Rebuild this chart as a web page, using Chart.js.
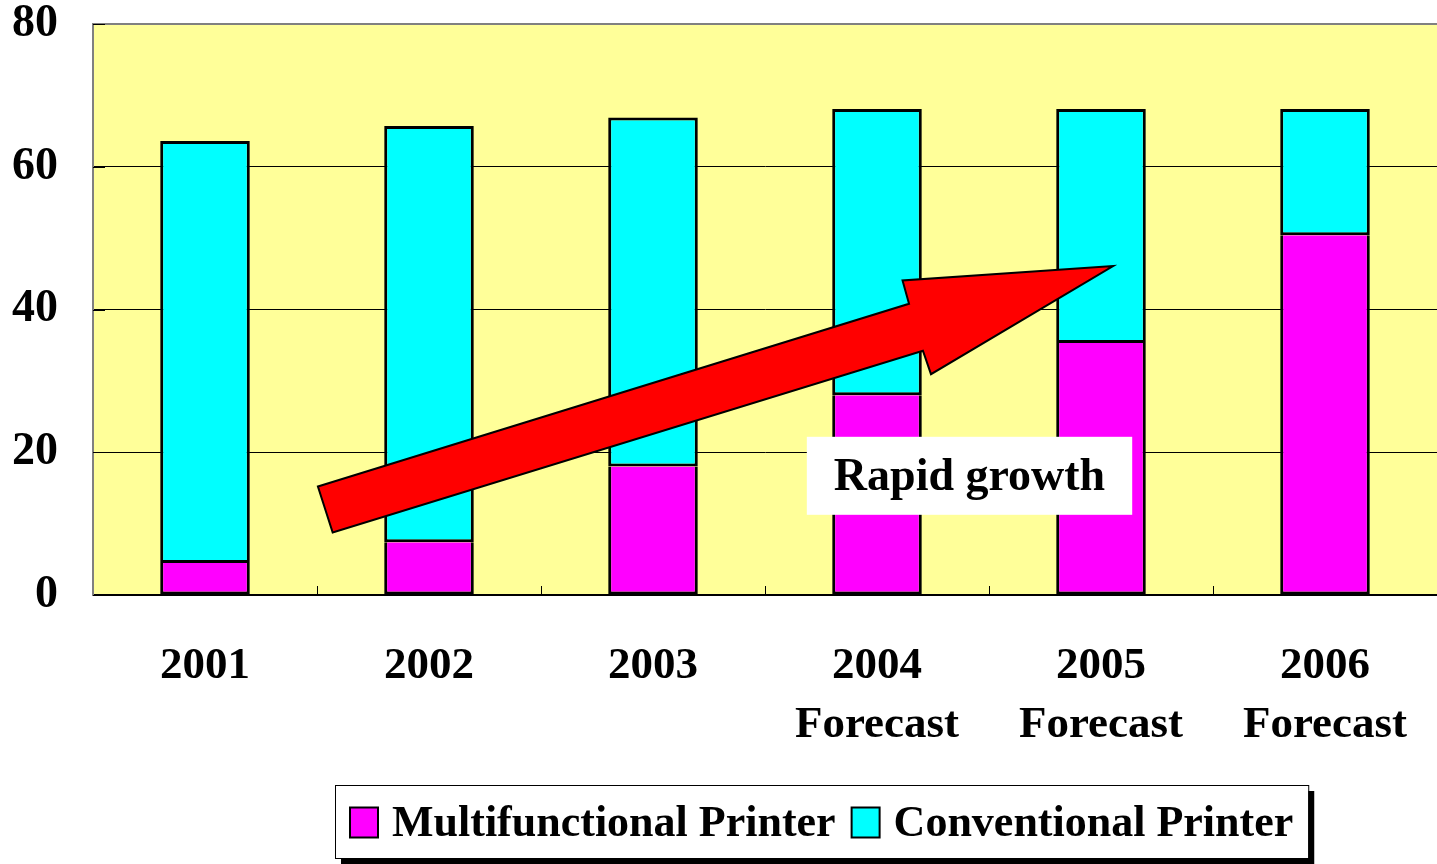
<!DOCTYPE html>
<html>
<head>
<meta charset="utf-8">
<script src="https://cdn.jsdelivr.net/npm/chart.js@4/dist/chart.umd.min.js"></script>
<style>
  body { margin: 0; background: #fff; }
  canvas { display: block; }
</style>
</head>
<body>
<canvas id="grafica" width="1437" height="864"></canvas>
<script>
// === Data ===
const years = ['2001', '2002', '2003', ['2004', 'Forecast'], ['2005', 'Forecast'], ['2006', 'Forecast']];
const multifunctional = [4.5, 7.4, 18, 28, 35.3, 50.4];
const conventional = [59.1, 58.3, 48.9, 40.1, 32.8, 17.7];
const yTicks = [0, 20, 40, 60, 80];

// arrow outline in data units (category index, value)
const arrowPoints = [[0.504, 15.2], [3.143, 40.8], [3.114, 44.07], [4.054, 46.09], [3.241, 30.94], [3.205, 34.22], [0.570, 8.76]];
const noteText = 'Rapid growth';
const notePos = [3.413, 16.7];

const FONT = '"Liberation Serif", "Times New Roman", serif';

// === Plugin: fondo, marcas, flecha, leyenda ===
const extras = {
    id: 'extras',
    beforeDraw(chart) {
        const { ctx, chartArea: a } = chart;
        ctx.save();
        ctx.fillStyle = '#FFFF99';
        ctx.fillRect(a.left, a.top, a.right - a.left, a.bottom - a.top);
        ctx.restore();
    },
    beforeDatasetsDraw(chart) {
        const { ctx, chartArea: a, scales } = chart;
        ctx.save();
        ctx.strokeStyle = '#000';
        ctx.lineWidth = 1;
        // tick marks between categories
        for (let i = 0; i < years.length - 1; i++) {
            const x = Math.round(scales.x.getPixelForValue(i + 0.5)) + 0.5;
            ctx.beginPath();
            ctx.moveTo(x, a.bottom);
            ctx.lineTo(x, a.bottom - 9);
            ctx.stroke();
        }
        // inward ticks on the value axis
        yTicks.forEach(v => {
            const y = Math.round(scales.y.getPixelForValue(v)) + 0.5;
            ctx.beginPath();
            ctx.moveTo(a.left, y);
            ctx.lineTo(a.left + 12, y);
            ctx.stroke();
        });
        ctx.restore();
    },
    afterDatasetsDraw(chart) {
        const { ctx, scales } = chart;
        ctx.save();
        // red arrow
        ctx.beginPath();
        arrowPoints.forEach((p, i) => {
            const x = scales.x.getPixelForValue(p[0]);
            const y = scales.y.getPixelForValue(p[1]);
            if (i === 0) ctx.moveTo(x, y); else ctx.lineTo(x, y);
        });
        ctx.closePath();
        ctx.fillStyle = '#FF0000';
        ctx.fill();
        ctx.lineWidth = 2;
        ctx.lineJoin = 'miter';
        ctx.strokeStyle = '#000';
        ctx.stroke();

        // label box
        ctx.font = 'bold 46px ' + FONT;
        const w = ctx.measureText(noteText).width + 54;
        const h = 78;
        const cx = scales.x.getPixelForValue(notePos[0]);
        const cy = scales.y.getPixelForValue(notePos[1]);
        ctx.fillStyle = '#fff';
        ctx.fillRect(cx - w / 2, cy - h / 2, w, h);
        ctx.fillStyle = '#000';
        ctx.textAlign = 'center';
        ctx.textBaseline = 'middle';
        ctx.fillText(noteText, cx, cy + 2);
        ctx.restore();
    },
    afterDraw(chart) {
        const { ctx } = chart;
        const items = chart.data.datasets.map(d => ({ label: d.label, color: d.backgroundColor }));
        ctx.save();
        ctx.font = 'bold 44px ' + FONT;
        const sw = 28, sh = 30, gapText = 14, gapItem = 16, pad = 15;
        let width = pad * 2;
        items.forEach((it, i) => {
            it.tw = ctx.measureText(it.label).width;
            width += sw + gapText + it.tw + (i < items.length - 1 ? gapItem : 0);
        });
        const boxH = 73;
        const left = Math.round(822 - width / 2);
        const top = 785;
        // shadow
        ctx.fillStyle = '#000';
        ctx.fillRect(left + 6, top + 6, width, boxH);
        ctx.fillStyle = '#fff';
        ctx.fillRect(left, top, width, boxH);
        ctx.strokeStyle = '#000';
        ctx.lineWidth = 1;
        ctx.strokeRect(left + 0.5, top + 0.5, width, boxH);

        let x = left + pad;
        const cy = top + boxH / 2 + 1;
        items.forEach(it => {
            ctx.fillStyle = it.color;
            ctx.fillRect(x, cy - sh / 2, sw, sh);
            ctx.lineWidth = 2;
            ctx.strokeStyle = '#000';
            ctx.strokeRect(x, cy - sh / 2, sw, sh);
            x += sw + gapText;
            ctx.fillStyle = '#000';
            ctx.textAlign = 'left';
            ctx.textBaseline = 'middle';
            ctx.fillText(it.label, x, cy + 2);
            x += it.tw + gapItem;
        });
        ctx.restore();
    }
};

// === Gráfica ===
const ctx = document.getElementById('grafica').getContext('2d');

new Chart(ctx, {
    type: 'bar',
    data: {
        labels: years,
        datasets: [{
            label: 'Multifunctional Printer',
            data: multifunctional,
            backgroundColor: '#FF00FF',
            borderColor: '#000',
            borderWidth: { top: 0, left: 3, right: 3, bottom: 3 },
            borderSkipped: false
        }, {
            label: 'Conventional Printer',
            data: conventional,
            backgroundColor: '#00FFFF',
            borderColor: '#000',
            borderWidth: 3,
            borderSkipped: false
        }]
    },
    options: {
        responsive: false,
        animation: false,
        layout: {
            padding: { top: 24, left: 0, right: 0, bottom: 0 }
        },
        datasets: {
            bar: {
                categoryPercentage: 1,
                barPercentage: 0.4
            }
        },
        plugins: {
            legend: { display: false },
            tooltip: { enabled: false }
        },
        scales: {
            x: {
                stacked: true,
                afterFit(scale) {
                    scale.height = 269;
                    scale.paddingLeft = 0;
                    scale.paddingRight = 0;
                },
                grid: { display: false, drawTicks: false },
                border: { display: true, color: '#000', width: 2 },
                ticks: {
                    color: '#000',
                    padding: 41,
                    maxRotation: 0,
                    autoSkip: false,
                    font: { family: FONT, size: 45, weight: 'bold', lineHeight: 1.33 }
                }
            },
            y: {
                stacked: true,
                min: 0,
                max: 80,
                afterFit(scale) {
                    scale.width = 93;
                    scale.paddingTop = 0;
                    scale.paddingBottom = 0;
                },
                grid: {
                    drawTicks: false,
                    color: c => (c.tick && c.tick.value === 80 ? '#808080' : '#000'),
                    lineWidth: c => (c.tick && c.tick.value === 80 ? 2 : 1)
                },
                border: { display: true, color: '#808080', width: 2 },
                ticks: {
                    stepSize: 20,
                    color: '#000',
                    padding: 35,
                    font: { family: FONT, size: 46, weight: 'bold' }
                }
            }
        }
    },
    plugins: [extras]
});
</script>
</body>
</html>
